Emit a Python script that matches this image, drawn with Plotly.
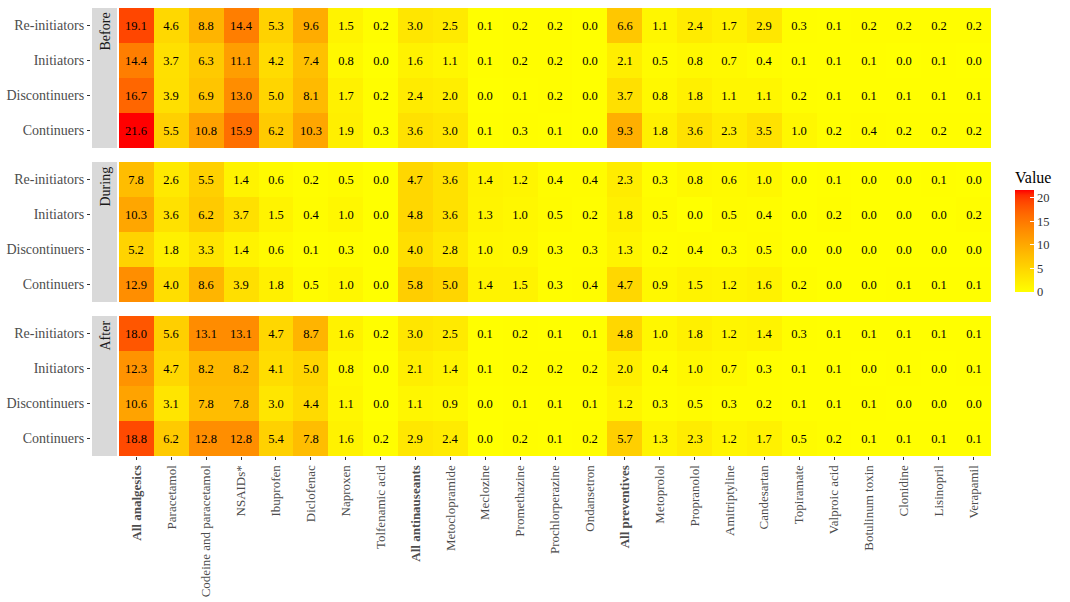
import plotly.graph_objects as go
import numpy as np

drugs = ["All analgesics", "Paracetamol", "Codeine and paracetamol", "NSAIDs*", "Ibuprofen",
         "Diclofenac", "Naproxen", "Tolfenamic acid", "All antinauseants", "Metoclopramide",
         "Meclozine", "Promethazine", "Prochlorperazine", "Ondansetron", "All preventives",
         "Metoprolol", "Propranolol", "Amitriptyline", "Candesartan", "Topiramate",
         "Valproic acid", "Botulinum toxin", "Clonidine", "Lisinopril", "Verapamil"]
bold_drugs = ["All analgesics", "All antinauseants", "All preventives"]
groups = ["Re-initiators", "Initiators", "Discontinuers", "Continuers"]
periods = ["Before", "During", "After"]
colorbar_ticks = [0, 5, 10, 15, 20]

before = [
    [19.1, 4.6, 8.8, 14.4, 5.3, 9.6, 1.5, 0.2, 3.0, 2.5, 0.1, 0.2, 0.2, 0.0, 6.6, 1.1, 2.4, 1.7, 2.9, 0.3, 0.1, 0.2, 0.2, 0.2, 0.2],
    [14.4, 3.7, 6.3, 11.1, 4.2, 7.4, 0.8, 0.0, 1.6, 1.1, 0.1, 0.2, 0.2, 0.0, 2.1, 0.5, 0.8, 0.7, 0.4, 0.1, 0.1, 0.1, 0.0, 0.1, 0.0],
    [16.7, 3.9, 6.9, 13.0, 5.0, 8.1, 1.7, 0.2, 2.4, 2.0, 0.0, 0.1, 0.2, 0.0, 3.7, 0.8, 1.8, 1.1, 1.1, 0.2, 0.1, 0.1, 0.1, 0.1, 0.1],
    [21.6, 5.5, 10.8, 15.9, 6.2, 10.3, 1.9, 0.3, 3.6, 3.0, 0.1, 0.3, 0.1, 0.0, 9.3, 1.8, 3.6, 2.3, 3.5, 1.0, 0.2, 0.4, 0.2, 0.2, 0.2],
]
during = [
    [7.8, 2.6, 5.5, 1.4, 0.6, 0.2, 0.5, 0.0, 4.7, 3.6, 1.4, 1.2, 0.4, 0.4, 2.3, 0.3, 0.8, 0.6, 1.0, 0.0, 0.1, 0.0, 0.0, 0.1, 0.0],
    [10.3, 3.6, 6.2, 3.7, 1.5, 0.4, 1.0, 0.0, 4.8, 3.6, 1.3, 1.0, 0.5, 0.2, 1.8, 0.5, 0.0, 0.5, 0.4, 0.0, 0.2, 0.0, 0.0, 0.0, 0.2],
    [5.2, 1.8, 3.3, 1.4, 0.6, 0.1, 0.3, 0.0, 4.0, 2.8, 1.0, 0.9, 0.3, 0.3, 1.3, 0.2, 0.4, 0.3, 0.5, 0.0, 0.0, 0.0, 0.0, 0.0, 0.0],
    [12.9, 4.0, 8.6, 3.9, 1.8, 0.5, 1.0, 0.0, 5.8, 5.0, 1.4, 1.5, 0.3, 0.4, 4.7, 0.9, 1.5, 1.2, 1.6, 0.2, 0.0, 0.0, 0.1, 0.1, 0.1],
]
after = [
    [18.0, 5.6, 13.1, 13.1, 4.7, 8.7, 1.6, 0.2, 3.0, 2.5, 0.1, 0.2, 0.1, 0.1, 4.8, 1.0, 1.8, 1.2, 1.4, 0.3, 0.1, 0.1, 0.1, 0.1, 0.1],
    [12.3, 4.7, 8.2, 8.2, 4.1, 5.0, 0.8, 0.0, 2.1, 1.4, 0.1, 0.2, 0.2, 0.2, 2.0, 0.4, 1.0, 0.7, 0.3, 0.1, 0.1, 0.0, 0.1, 0.0, 0.1],
    [10.6, 3.1, 7.8, 7.8, 3.0, 4.4, 1.1, 0.0, 1.1, 0.9, 0.0, 0.1, 0.1, 0.1, 1.2, 0.3, 0.5, 0.3, 0.2, 0.1, 0.1, 0.1, 0.0, 0.0, 0.0],
    [18.8, 6.2, 12.8, 12.8, 5.4, 7.8, 1.6, 0.2, 2.9, 2.4, 0.0, 0.2, 0.1, 0.2, 5.7, 1.3, 2.3, 1.2, 1.7, 0.5, 0.2, 0.1, 0.1, 0.1, 0.1],
]
panel_data = [before, during, after]


# ggplot-style yellow -> red gradient interpolated in CIE Lab
def srgb_to_lab(rgb):
    c = np.array(rgb) / 255.0
    c = np.where(c > 0.04045, ((c + 0.055) / 1.055) ** 2.4, c / 12.92)
    M = np.array([[0.4124, 0.3576, 0.1805], [0.2126, 0.7152, 0.0722], [0.0193, 0.1192, 0.9505]])
    xyz = M @ c
    wp = np.array([0.95047, 1.0, 1.08883])
    t = xyz / wp
    f = np.where(t > 0.008856, np.cbrt(t), 7.787 * t + 16 / 116)
    return np.array([116 * f[1] - 16, 500 * (f[0] - f[1]), 200 * (f[1] - f[2])])


def lab_to_srgb(lab):
    L, a, b = lab
    fy = (L + 16) / 116
    fx = fy + a / 500
    fz = fy - b / 200
    f = np.array([fx, fy, fz])
    t = np.where(f ** 3 > 0.008856, f ** 3, (f - 16 / 116) / 7.787)
    wp = np.array([0.95047, 1.0, 1.08883])
    xyz = t * wp
    Minv = np.array([[3.2406, -1.5372, -0.4986], [-0.9689, 1.8758, 0.0415], [0.0557, -0.2040, 1.0570]])
    c = Minv @ xyz
    c = np.where(c > 0.0031308, 1.055 * np.clip(c, 0, None) ** (1 / 2.4) - 0.055, 12.92 * c)
    c = np.clip(c, 0, 1) * 255
    return "rgb(%d,%d,%d)" % tuple(np.round(c).astype(int))


lab_lo = srgb_to_lab([255, 255, 0])
lab_hi = srgb_to_lab([255, 0, 0])
colorscale = [[s, lab_to_srgb(lab_lo + (lab_hi - lab_lo) * s)] for s in np.linspace(0, 1, 21)]

zmax = max(max(max(r) for r in p) for p in panel_data)

FONT = "Liberation Serif"
W, H = 1070, 602
ml, mr, mt, mb = 90, 5, 8, 146
pw = W - ml - mr
ph = H - mt - mb
heat_left, heat_right = 119, 991
xdom = [(heat_left - ml) / pw, (heat_right - ml) / pw]
panel_h = 140
gap = 14

fig = go.Figure()
shapes = []
annotations = []
for i, (period, data) in enumerate(zip(periods, panel_data)):
    top_px = mt + i * (panel_h + gap)
    y0 = 1 - (top_px + panel_h - mt) / ph
    y1 = 1 - (top_px - mt) / ph
    yname = "y" if i == 0 else "y%d" % (i + 1)
    fig.add_trace(go.Heatmap(
        z=data, x=drugs, y=groups, yaxis=yname, xaxis="x",
        zmin=0, zmax=zmax, colorscale=colorscale,
        texttemplate="%{z:.1f}", textfont=dict(family=FONT, size=12.5, color="black"),
        showscale=(i == 0), xgap=0, ygap=0,
        colorbar=dict(
            title=dict(text="Value", font=dict(family=FONT, size=16, color="black"), side="top"),
            x=(1015 - ml) / pw, xanchor="left", xpad=0,
            y=1 - (168 - mt) / ph, yanchor="top", ypad=0,
            len=124, lenmode="pixels", thickness=19, outlinewidth=0,
            tickvals=colorbar_ticks, ticks="inside", ticklen=4, tickcolor="white",
            tickfont=dict(family=FONT, size=12.5, color="#333333"),
        ),
        hoverinfo="x+y+z",
    ))
    key = "yaxis" if i == 0 else "yaxis%d" % (i + 1)
    fig.layout[key] = dict(
        domain=[y0, y1], anchor="free", position=0,
        categoryorder="array", categoryarray=groups, autorange="reversed",
        ticks="outside", ticklen=3, tickcolor="#333333", showgrid=False, zeroline=False,
        showline=False, tickfont=dict(family=FONT, size=14, color="#4D4D4D"),
    )
    # facet strip
    shapes.append(dict(type="rect", xref="paper", yref="paper",
                       x0=(92 - ml) / pw, x1=(117 - ml) / pw, y0=y0, y1=y1,
                       fillcolor="#D9D9D9", line=dict(width=0), layer="below"))
    annotations.append(dict(text=period, xref="paper", yref="paper",
                            x=(104.5 - ml) / pw, y=y1 - 3 / ph, xanchor="center", yanchor="top",
                            textangle=-90, showarrow=False,
                            font=dict(family=FONT, size=14, color="#1A1A1A")))

ticktext = ["<b>%s</b>" % d if d in bold_drugs else d for d in drugs]
fig.update_layout(
    width=W, height=H,
    margin=dict(l=ml, r=mr, t=mt, b=mb, pad=0),
    paper_bgcolor="white", plot_bgcolor="white",
    xaxis=dict(domain=xdom, anchor="y3",
               tickmode="array", tickvals=drugs, ticktext=ticktext, tickangle=-90,
               ticks="outside", ticklen=3, tickcolor="#333333", showgrid=False, zeroline=False,
               tickfont=dict(family=FONT, size=13, color="#4D4D4D"), automargin=False),
    shapes=shapes, annotations=annotations,
)
fig.write_html("out.html")
